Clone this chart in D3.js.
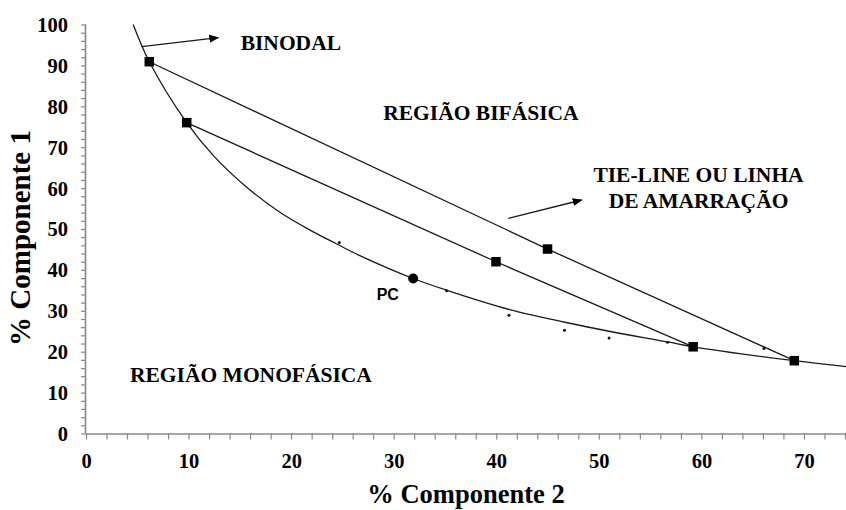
<!DOCTYPE html>
<html>
<head>
<meta charset="utf-8">
<script src="https://cdn.jsdelivr.net/npm/d3@7"></script>
<style>
  html, body { margin: 0; padding: 0; background: #fff; }
  svg { display: block; }
  .serif { font-family: "Liberation Serif", "Times New Roman", serif; font-weight: bold; fill: #000; }
</style>
</head>
<body>
<svg id="chart" width="846" height="510"></svg>
<script>
// Binodal curve (x = % Componente 2, y = % Componente 1)
const binodalX = [4.6, 6.17, 9.82, 12.4, 15.67, 18.9, 22.16, 24.4, 26.7, 31.9, 35.2, 41.3, 46.7, 51.0, 56.7, 59.2, 69.06, 74.2];
const binodalY = [100, 90.9, 76.0, 68.0, 60.2, 54.1, 49.3, 46.4, 43.5, 37.9, 35.0, 30.3, 27.2, 25.0, 22.4, 21.2, 17.8, 16.3];

// Experimental points along the binodal
const pontosX = [24.7, 35.16, 41.24, 46.65, 51.0, 56.7, 66.1];
const pontosY = [46.7, 34.9, 28.9, 25.25, 23.35, 22.3, 20.8];

// Tie-lines: top phase, global composition, bottom phase
const tie1X = [6.17, 45.0, 69.06];
const tie1Y = [90.9, 45.1, 17.8];
const tie2X = [9.82, 39.97, 59.2];
const tie2Y = [76.0, 42.0, 21.2];

// Critical point
const pcX = [31.9];
const pcY = [37.9];

// Axis ticks
const xMajorTicks = [0, 10, 20, 30, 40, 50, 60, 70];
const yMajorTicks = [0, 10, 20, 30, 40, 50, 60, 70, 80, 90, 100];

const svg = d3.select("#chart");
const padL = 86, padR = 846, padT = 24.5, padB = 433.5;

const x = d3.scaleLinear().domain([0, 74.1]).range([padL, padR]);
const y = d3.scaleLinear().domain([0, 100]).range([padB, padT]);

const axisColor = "#888888";
const lineColor = "#1a1a1a";

const defs = svg.append("defs");
defs.append("clipPath").attr("id", "plot")
  .append("rect").attr("x", padL).attr("y", padT - 2).attr("width", padR - padL).attr("height", padB - padT + 2);

defs.append("marker")
  .attr("id", "arrow").attr("viewBox", "0 0 10 10").attr("refX", 9).attr("refY", 5)
  .attr("markerWidth", 10).attr("markerHeight", 10).attr("markerUnits", "userSpaceOnUse")
  .attr("orient", "auto")
  .append("path").attr("d", "M0,1 L10,5 L0,9 Z").attr("fill", "#000");

// Axes
const xAxis = d3.axisBottom(x)
  .tickValues(d3.range(0, 75, 2))
  .tickSize(6)
  .tickFormat(d => xMajorTicks.includes(d) ? d : "");
const gx = svg.append("g").attr("transform", `translate(0,${padB})`).call(xAxis);
gx.select(".domain").attr("stroke", axisColor).attr("stroke-width", 1.6).attr("d", `M${padL},0.5H${padR}`);
gx.selectAll(".tick line").attr("stroke", axisColor).attr("stroke-width", 1.2);
gx.selectAll(".tick text").attr("class", "serif").attr("font-size", 20.5).attr("dy", null).attr("y", 34);

const yAxis = d3.axisLeft(y)
  .tickValues(d3.range(0, 101, 2))
  .tickSize(5)
  .tickFormat(d => yMajorTicks.includes(d) ? d : "");
const gy = svg.append("g").attr("transform", `translate(${padL},0)`).call(yAxis);
gy.select(".domain").attr("stroke", axisColor).attr("stroke-width", 1.6).attr("d", `M-0.5,${padT}V${padB}`);
gy.selectAll(".tick line").attr("stroke", axisColor).attr("stroke-width", 1.2);
gy.selectAll(".tick text").attr("class", "serif").attr("font-size", 20.5).attr("x", -18).attr("dy", "0.34em");

// Axis titles
svg.append("text").attr("class", "serif").attr("font-size", 26.5)
  .attr("x", 466).attr("y", 503).attr("text-anchor", "middle").text("% Componente 2");
svg.append("text").attr("class", "serif").attr("font-size", 29)
  .attr("transform", `translate(30,238) rotate(-90)`).attr("text-anchor", "middle").text("% Componente 1");

const plot = svg.append("g").attr("clip-path", "url(#plot)");

const smooth = d3.line().x(d => x(d[0])).y(d => y(d[1])).curve(d3.curveCatmullRom.alpha(0.5));
const straight = d3.line().x(d => x(d[0])).y(d => y(d[1]));

// Binodal
plot.append("path")
  .datum(d3.zip(binodalX, binodalY))
  .attr("d", smooth)
  .attr("fill", "none").attr("stroke", lineColor).attr("stroke-width", 1.3);

// Tie-lines
[[tie1X, tie1Y], [tie2X, tie2Y]].forEach(([tx, ty]) => {
  plot.append("path")
    .datum(d3.zip(tx, ty))
    .attr("d", straight)
    .attr("fill", "none").attr("stroke", lineColor).attr("stroke-width", 1.3);
});

// Small experimental points
plot.selectAll("circle.pt")
  .data(d3.zip(pontosX, pontosY)).join("circle")
  .attr("class", "pt").attr("cx", d => x(d[0])).attr("cy", d => y(d[1])).attr("r", 1.5).attr("fill", "#111");

// Tie-line end and mid markers
const sq = 9.5;
const squares = d3.zip(tie1X, tie1Y).concat(d3.zip(tie2X, tie2Y));
svg.selectAll("rect.sq").data(squares).join("rect")
  .attr("class", "sq")
  .attr("x", d => x(d[0]) - sq / 2).attr("y", d => y(d[1]) - sq / 2)
  .attr("width", sq).attr("height", sq).attr("fill", "#000");

// Critical point
svg.selectAll("circle.pc").data(d3.zip(pcX, pcY)).join("circle")
  .attr("class", "pc").attr("cx", d => x(d[0])).attr("cy", d => y(d[1])).attr("r", 5).attr("fill", "#000");

// Annotations
const ann = (tx, ty, txt, anchor = "start", size = 21.5) =>
  svg.append("text").attr("class", "serif").attr("font-size", size)
    .attr("x", x(tx)).attr("y", y(ty)).attr("text-anchor", anchor).text(txt);

ann(15.08, 93.77, "BINODAL");
ann(28.98, 76.65, "REGIÃO BIFÁSICA");
ann(59.72, 61.49, "TIE-LINE OU LINHA", "middle");
ann(59.72, 55.13, "DE AMARRAÇÃO", "middle");
ann(4.29, 12.59, "REGIÃO MONOFÁSICA");

svg.append("text").attr("x", x(28.34)).attr("y", y(32.64))
  .attr("font-family", "Liberation Sans, Arial, sans-serif").attr("font-weight", "bold")
  .attr("font-size", 16).attr("fill", "#000").text("PC");

// Arrows
const arrows = [
  [[5.43, 94.57], [12.9, 96.77]],
  [[41.17, 52.62], [48.33, 57.09]]
];
arrows.forEach(a => {
  svg.append("path").attr("d", straight(a))
    .attr("stroke", lineColor).attr("stroke-width", 1.3).attr("fill", "none")
    .attr("marker-end", "url(#arrow)");
});
</script>
</body>
</html>
